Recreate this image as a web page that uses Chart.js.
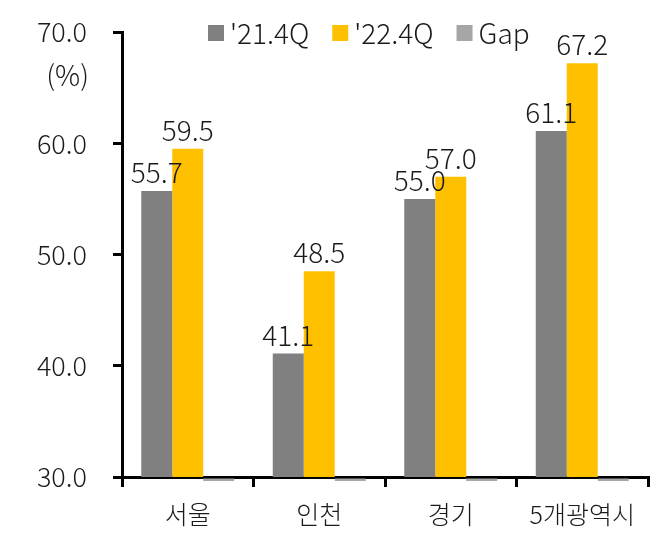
<!DOCTYPE html>
<html>
<head>
<meta charset="utf-8">
<script src="https://cdn.jsdelivr.net/npm/chart.js@4"></script>
<style>
  html, body { margin: 0; padding: 0; background: #fff; }
  #wrap { width: 666px; height: 545px; }
</style>
</head>
<body>
<div id="wrap"><canvas id="c" width="666" height="545"></canvas></div>
<script>
const regions = ['서울', '인천', '경기', '5개광역시'];
const q21 = [55.7, 41.1, 55.0, 61.1];
const q22 = [59.5, 48.5, 57.0, 67.2];
const gap = [3.8, 7.4, 2.0, 6.1];
const seriesNames = ["'21.4Q", "'22.4Q", 'Gap'];
const yTicks = [30, 40, 50, 60, 70];

const FONT = "'Noto Sans CJK KR', 'Noto Sans', sans-serif";
const TXT = '#1a1a1a';

// value labels on top of the first two series
const valueLabels = {
  id: 'valueLabels',
  afterDatasetsDraw(chart) {
    const ctx = chart.ctx;
    ctx.save();
    ctx.font = '300 28px ' + FONT;
    ctx.fillStyle = TXT;
    ctx.textAlign = 'center';
    ctx.textBaseline = 'alphabetic';
    [0, 1].forEach(i => {
      chart.getDatasetMeta(i).data.forEach((bar, j) => {
        ctx.fillText(chart.data.datasets[i].data[j].toFixed(1), bar.x, bar.y - 8);
      });
    });
    ctx.restore();
  }
};

// the gap bars fall below the 30 baseline, only a sliver shows under the axis
const gapSliver = {
  id: 'gapSliver',
  afterDraw(chart) {
    const ctx = chart.ctx;
    const bottom = chart.chartArea.bottom;
    const ds = chart.data.datasets[2];
    ctx.save();
    ctx.fillStyle = ds.backgroundColor;
    chart.getDatasetMeta(2).data.forEach(bar => {
      ctx.fillRect(bar.x - bar.width / 2, bottom + 1.5, bar.width, 2.5);
    });
    ctx.restore();
  }
};

// legend row at the top + "(%)" unit
const topLegend = {
  id: 'topLegend',
  afterDraw(chart) {
    const ctx = chart.ctx;
    ctx.save();
    ctx.font = '300 28px ' + FONT;
    ctx.textBaseline = 'middle';
    let x = 208;
    const y = 33;
    chart.data.datasets.forEach(ds => {
      ctx.fillStyle = ds.backgroundColor;
      ctx.fillRect(x, y - 8, 16, 16);
      ctx.fillStyle = TXT;
      ctx.textAlign = 'left';
      ctx.fillText(ds.label, x + 22, y);
      x += 22 + ctx.measureText(ds.label).width + 23;
    });
    ctx.textAlign = 'right';
    ctx.fillText('(%)', 89, 75);
    ctx.restore();
  }
};

new Chart(document.getElementById('c'), {
  type: 'bar',
  data: {
    labels: regions,
    datasets: [
      { label: seriesNames[0], data: q21, backgroundColor: '#808080' },
      { label: seriesNames[1], data: q22, backgroundColor: '#ffc000' },
      { label: seriesNames[2], data: gap, backgroundColor: '#a6a6a6' }
    ]
  },
  options: {
    responsive: false,
    animation: false,
    categoryPercentage: 0.707,
    barPercentage: 1,
    layout: { padding: { top: 32, right: 18, left: 0, bottom: 0 } },
    plugins: {
      legend: { display: false },
      tooltip: { enabled: false }
    },
    scales: {
      x: {
        grid: { drawOnChartArea: false, color: '#000', lineWidth: 3, tickLength: 10 },
        border: { color: '#000', width: 3 },
        ticks: { color: TXT, font: { family: FONT, size: 25, weight: 300 }, padding: 12 },
        afterFit(s) { s.height = 68; s.paddingLeft = 0; s.paddingRight = 0; }
      },
      y: {
        min: 30,
        max: 70,
        afterBuildTicks(s) { s.ticks = yTicks.map(v => ({ value: v })); },
        grid: { drawOnChartArea: false, color: '#000', lineWidth: 3, tickLength: 9 },
        border: { color: '#000', width: 3 },
        ticks: {
          color: TXT,
          font: { family: FONT, size: 27, weight: 300 },
          padding: 26,
          callback: v => v.toFixed(1)
        },
        afterFit(s) { s.width = 122; s.paddingTop = 0; s.paddingBottom = 0; }
      }
    }
  },
  plugins: [valueLabels, gapSliver, topLegend]
});
</script>
</body>
</html>
